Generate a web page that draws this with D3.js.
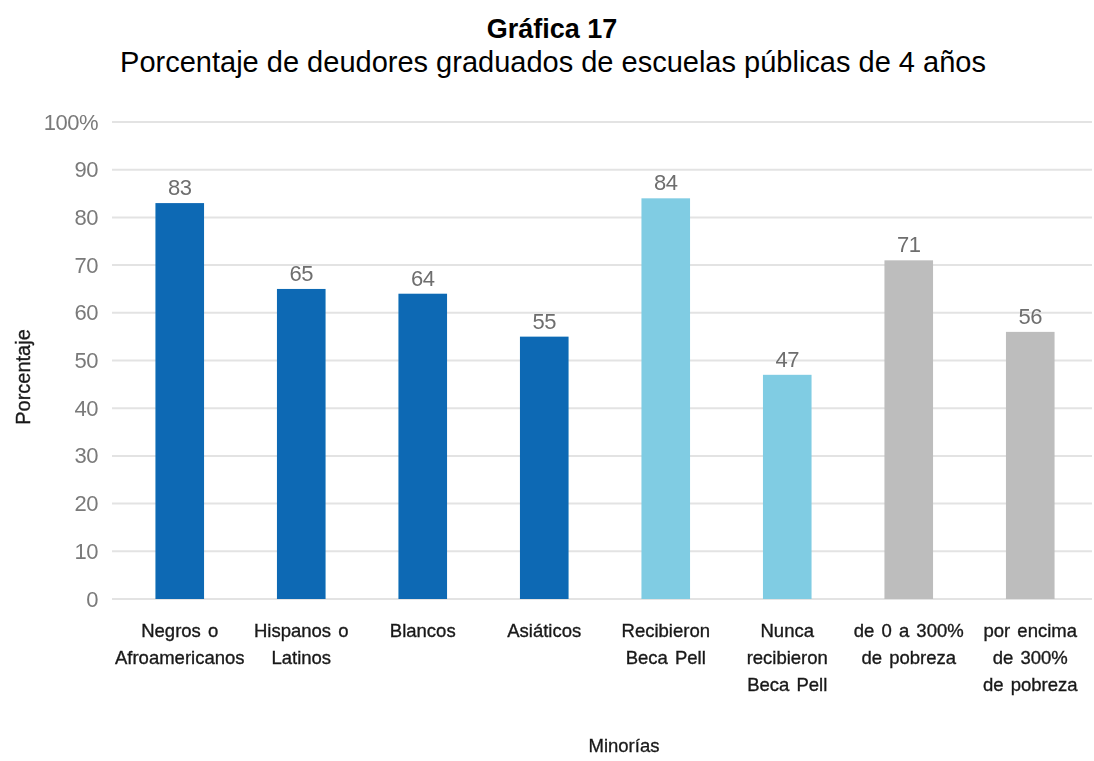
<!DOCTYPE html>
<html>
<head>
<meta charset="utf-8">
<script src="https://cdn.jsdelivr.net/npm/d3@7"></script>
<style>
  html, body { margin: 0; padding: 0; background: #fff; }
  svg { display: block; }
</style>
</head>
<body>
<svg id="chart" width="1094" height="761"></svg>
<script>
// Categories (each label split into its display lines)
const categories = [
  ["Negros o", "Afroamericanos"],
  ["Hispanos o", "Latinos"],
  ["Blancos"],
  ["Asiáticos"],
  ["Recibieron", "Beca Pell"],
  ["Nunca", "recibieron", "Beca Pell"],
  ["de 0 a 300%", "de pobreza"],
  ["por encima", "de 300%", "de pobreza"]
];
// Percentage of borrowers for each category
const values = [83, 65, 64, 55, 84, 47, 71, 56];
// Group each bar belongs to (controls colour)
const groups = ["raza", "raza", "raza", "raza", "pell", "pell", "ingreso", "ingreso"];
const yTicks = [0, 10, 20, 30, 40, 50, 60, 70, 80, 90, 100];

const colors = { raza: "#0869b4", pell: "#80cce3", ingreso: "#bdbdbd" };
const FONT = "Liberation Sans, Arial, sans-serif";

const svg = d3.select("#chart");

const x = d3.scaleBand()
  .domain(d3.range(values.length))
  .range([119, 1091])
  .paddingInner(0.6)
  .paddingOuter(0.3);

const y = d3.scaleLinear().domain([0, 100]).range([599, 122]);

// Titles
svg.append("text")
  .attr("x", 552).attr("y", 38)
  .attr("text-anchor", "middle")
  .attr("font-family", FONT)
  .attr("font-weight", "bold")
  .attr("font-size", 27)
  .attr("fill", "#000")
  .text("Gráfica 17");

svg.append("text")
  .attr("x", 553).attr("y", 72)
  .attr("text-anchor", "middle")
  .attr("font-family", FONT)
  .attr("font-size", 29)
  .attr("fill", "#000")
  .text("Porcentaje de deudores graduados de escuelas públicas de 4 años");

// Soft focus for the plotted area
const defs = svg.append("defs");
defs.append("filter").attr("id", "soft")
  .append("feGaussianBlur").attr("stdDeviation", 0.6);

const plot = svg.append("g").attr("filter", "url(#soft)");

// Gridlines
plot.append("g")
  .selectAll("line")
  .data(yTicks)
  .join("line")
  .attr("x1", 112).attr("x2", 1092)
  .attr("y1", d => y(d)).attr("y2", d => y(d))
  .attr("stroke", "#e3e3e3")
  .attr("stroke-width", 2);

// Y axis labels
const yAxis = d3.axisLeft(y)
  .tickValues(yTicks)
  .tickSize(0)
  .tickPadding(0)
  .tickFormat(d => d === 100 ? "100%" : d);

const yg = plot.append("g")
  .attr("transform", "translate(98,0)")
  .call(yAxis);
yg.select(".domain").remove();
yg.selectAll("text")
  .attr("font-family", FONT)
  .attr("font-size", 22)
  .attr("letter-spacing", -0.5)
  .attr("fill", "#7a7a7a");

// Bars
plot.append("g")
  .selectAll("rect")
  .data(values)
  .join("rect")
  .attr("x", (d, i) => x(i))
  .attr("width", x.bandwidth())
  .attr("y", d => y(d))
  .attr("height", d => y(0) - y(d))
  .attr("fill", (d, i) => colors[groups[i]]);

// Value labels
plot.append("g")
  .selectAll("text")
  .data(values)
  .join("text")
  .attr("x", (d, i) => x(i) + x.bandwidth() / 2)
  .attr("y", d => y(d) - 8)
  .attr("text-anchor", "middle")
  .attr("font-family", FONT)
  .attr("font-size", 22)
  .attr("letter-spacing", -0.5)
  .attr("fill", "#6e6e6e")
  .text(d => d);

// Category labels
const cat = plot.append("g")
  .selectAll("text")
  .data(categories)
  .join("text")
  .attr("x", (d, i) => x(i) + x.bandwidth() / 2)
  .attr("y", 637)
  .attr("text-anchor", "middle")
  .attr("font-family", FONT)
  .attr("font-size", 18.5)
  .attr("word-spacing", 2)
  .attr("fill", "#1a1a1a")
  .attr("stroke", "#1a1a1a")
  .attr("stroke-width", 0.35);
cat.selectAll("tspan")
  .data(d => d)
  .join("tspan")
  .attr("x", function() { return d3.select(this.parentNode).attr("x"); })
  .attr("dy", (d, j) => j === 0 ? 0 : 27)
  .text(d => d);

// Axis titles
plot.append("text")
  .attr("x", 624).attr("y", 752)
  .attr("text-anchor", "middle")
  .attr("font-family", FONT)
  .attr("font-size", 18.5)
  .attr("fill", "#1a1a1a")
  .attr("stroke", "#1a1a1a")
  .attr("stroke-width", 0.3)
  .text("Minorías");

plot.append("text")
  .attr("transform", "translate(30,377) rotate(-90)")
  .attr("text-anchor", "middle")
  .attr("font-family", FONT)
  .attr("font-size", 20)
  .attr("fill", "#1a1a1a")
  .attr("stroke", "#1a1a1a")
  .attr("stroke-width", 0.3)
  .text("Porcentaje");
</script>
</body>
</html>
